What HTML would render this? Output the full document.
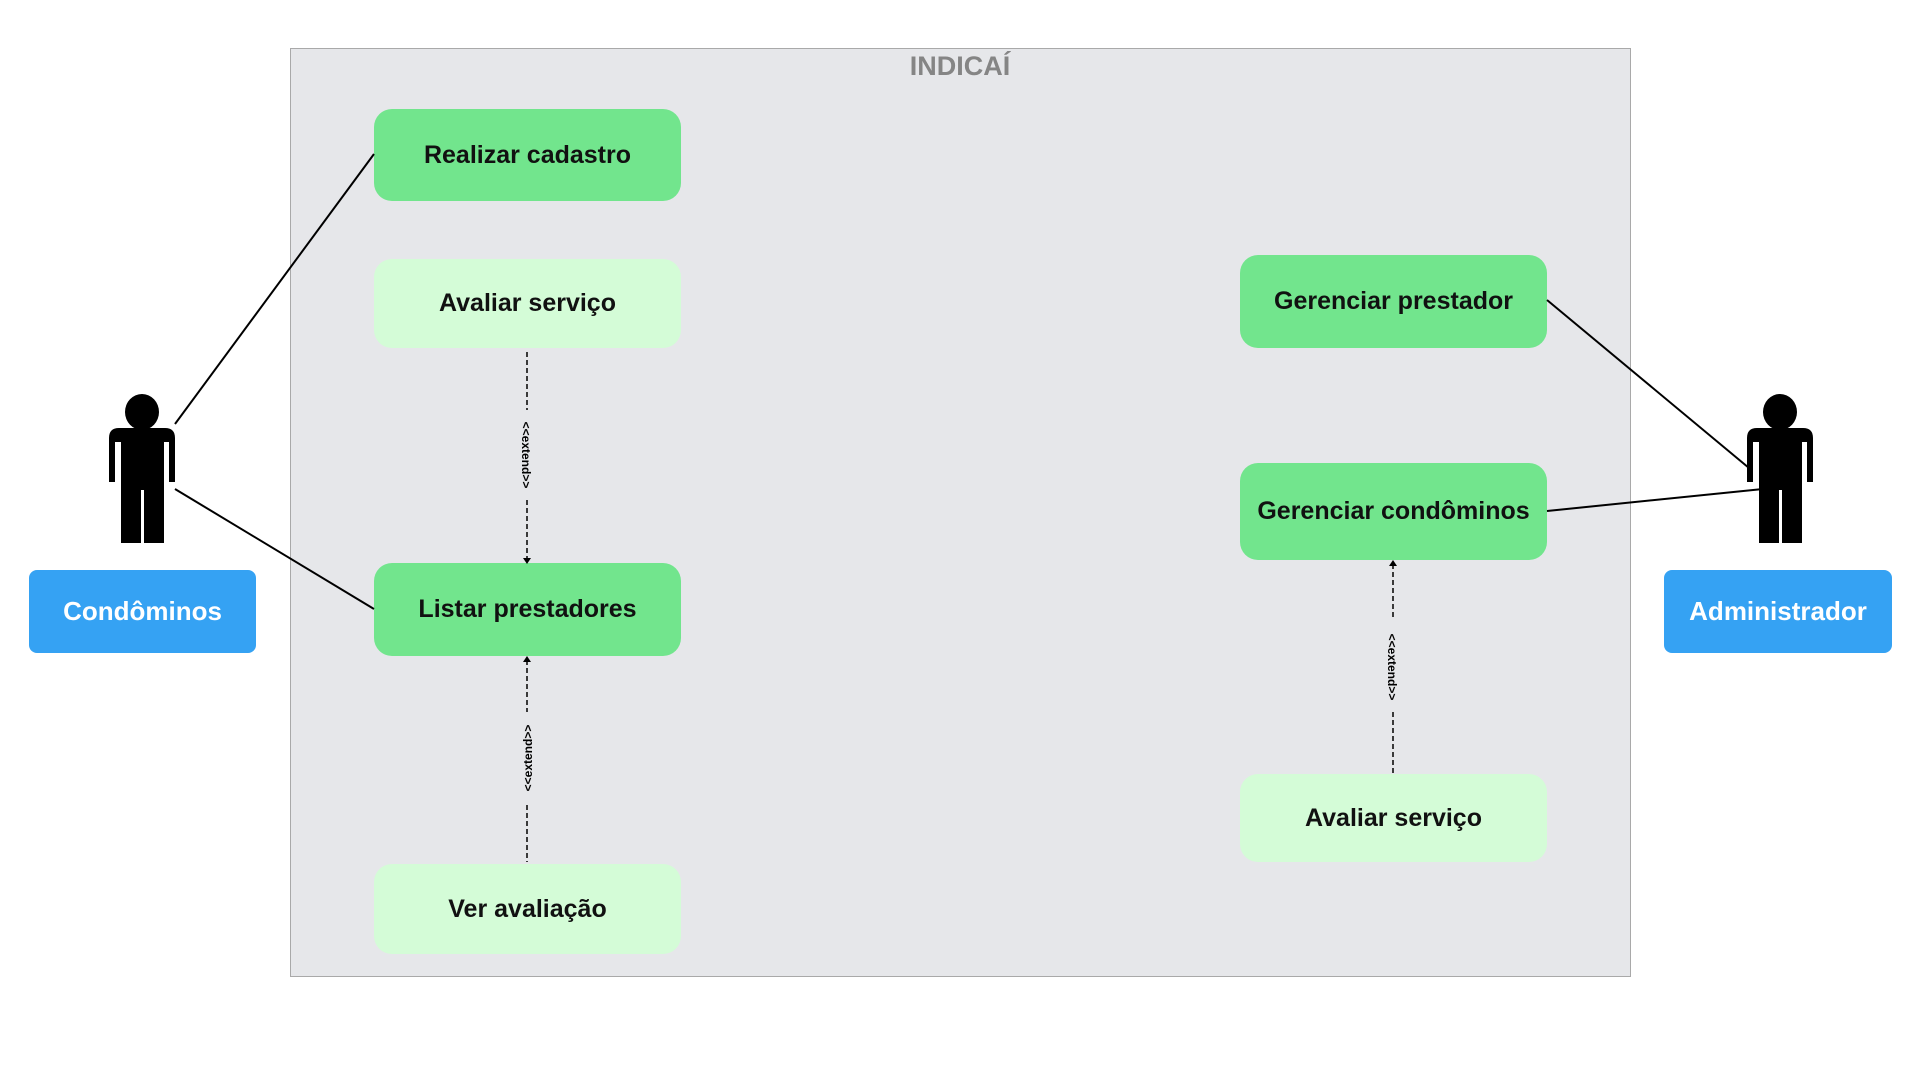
<!DOCTYPE html>
<html><head><meta charset="utf-8"><style>
body{margin:0;width:1920px;height:1080px;background:#fff;position:relative;overflow:hidden;font-family:"Liberation Sans",sans-serif}
.frame{position:absolute;left:290px;top:48px;width:1339px;height:927px;background:#e6e7ea;border:1px solid #a9a9a9}
.title{position:absolute;left:0;width:1920px;top:51px;text-align:center;font-weight:bold;font-size:27px;color:#858585}
.b{position:absolute;width:307px;border-radius:18px;display:flex;align-items:center;justify-content:center;font-weight:bold;font-size:25px;color:#111}
.g{background:#72e58d}.l{background:#d4fcd7}
.a{position:absolute;background:#35a2f3;color:#fff;border-radius:8px;display:flex;align-items:center;justify-content:center;font-weight:bold;font-size:26px}
svg{position:absolute;left:0;top:0}
</style></head><body>
<div class="frame"></div>
<div class="title">INDICAÍ</div>
<div class="b g" style="left:374px;top:109px;height:92px">Realizar cadastro</div>
<div class="b l" style="left:374px;top:259px;height:89px">Avaliar serviço</div>
<div class="b g" style="left:374px;top:563px;height:93px">Listar prestadores</div>
<div class="b l" style="left:374px;top:864px;height:90px">Ver avaliação</div>
<div class="b g" style="left:1240px;top:255px;height:93px">Gerenciar prestador</div>
<div class="b g" style="left:1240px;top:463px;height:97px">Gerenciar condôminos</div>
<div class="b l" style="left:1240px;top:774px;height:88px">Avaliar serviço</div>
<div class="a" style="left:29px;top:570px;width:227px;height:83px">Condôminos</div>
<div class="a" style="left:1664px;top:570px;width:228px;height:83px">Administrador</div>
<svg width="1920" height="1080">
<defs><g id="p">
<ellipse cx="0" cy="0" rx="17" ry="18"/>
<path d="M-33,26 Q-33,16 -23,16 L23,16 Q33,16 33,26 L33,70 L27,70 L27,30 L22,30 L22,131 L2,131 L2,78 L-1,78 L-1,131 L-21,131 L-21,30 L-27,30 L-27,70 L-33,70 Z"/>
</g></defs>
<use href="#p" x="142" y="412"/>
<use href="#p" x="1780" y="412"/>
<g stroke="#000" stroke-width="2" fill="none">
<line x1="175" y1="424" x2="374" y2="154"/>
<line x1="175" y1="489" x2="374" y2="609"/>
<line x1="1547" y1="300" x2="1749" y2="468"/>
<line x1="1547" y1="511" x2="1763" y2="489"/>
</g>
<g stroke="#000" stroke-width="1.5" stroke-dasharray="5,3" fill="none">
<line x1="527" y1="352" x2="527" y2="410"/><line x1="527" y1="500" x2="527" y2="560"/>
<line x1="527" y1="660" x2="527" y2="712"/><line x1="527" y1="805" x2="527" y2="862"/>
<line x1="1393" y1="564" x2="1393" y2="620"/><line x1="1393" y1="712" x2="1393" y2="773"/>
</g>
<g fill="#000">
<path d="M523,558 L527,564 L531,558Z"/><path d="M523,662 L527,656 L531,662Z"/><path d="M1389,566 L1393,560 L1397,566Z"/>
</g>
<g font-size="12" font-weight="bold" fill="#000" text-anchor="middle" font-family="Liberation Sans,sans-serif">
<text transform="translate(522,455) rotate(90)">&lt;&lt;extend&gt;&gt;</text>
<text transform="translate(532,758) rotate(-90)">&lt;&lt;extend&gt;&gt;</text>
<text transform="translate(1388,667) rotate(90)">&lt;&lt;extend&gt;&gt;</text>
</g>
</svg>
</body></html>
